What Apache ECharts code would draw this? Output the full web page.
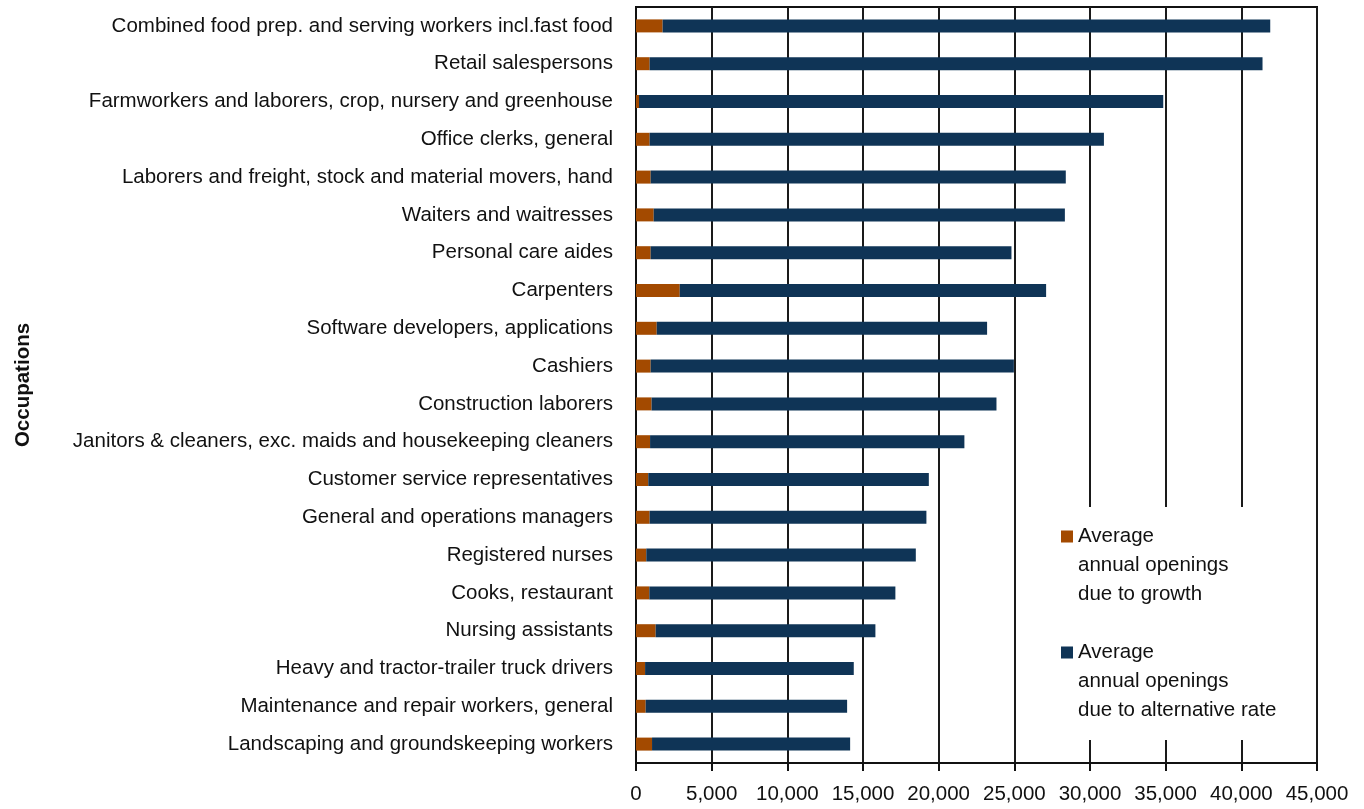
<!DOCTYPE html>
<html>
<head>
<meta charset="utf-8">
<script src="https://cdn.jsdelivr.net/npm/echarts@6/dist/echarts.min.js"></script>
<style>
html,body{margin:0;padding:0;background:#fff;}
#chart{width:1364px;height:809px;}
</style>
</head>
<body>
<div id="chart"></div>
<script>
const categories = [
  "Combined food prep. and serving workers incl.fast food",
  "Retail salespersons",
  "Farmworkers and laborers, crop, nursery and greenhouse",
  "Office clerks, general",
  "Laborers and freight, stock and material movers, hand",
  "Waiters and waitresses",
  "Personal care aides",
  "Carpenters",
  "Software developers, applications",
  "Cashiers",
  "Construction laborers",
  "Janitors & cleaners, exc. maids and housekeeping cleaners",
  "Customer service representatives",
  "General and operations managers",
  "Registered nurses",
  "Cooks, restaurant",
  "Nursing assistants",
  "Heavy and tractor-trailer truck drivers",
  "Maintenance and repair workers, general",
  "Landscaping and groundskeeping workers"
];
const growthOpenings = [1760, 900, 200, 900, 970, 1170, 970, 2890, 1370, 970, 1030, 930, 810, 900, 680, 880, 1300, 600, 640, 1060];
const alternativeOpenings = [40150, 40500, 34640, 30020, 27430, 27170, 23840, 24210, 21830, 24000, 22790, 20770, 18540, 18290, 17810, 16260, 14520, 13790, 13310, 13090];
const seriesNames = [
  "Average\nannual openings\ndue to growth",
  "Average\nannual openings\ndue to alternative rate"
];
const axisMin = 0, axisMax = 45000, axisStep = 5000;
const yAxisTitle = "Occupations";

const FONT = "Liberation Sans, Arial, sans-serif";
const FS = 20.5;
const ICON = 'path://M0,0L12,0L12,12L0,12Z M0,69.99L0.01,69.99L0.01,70L0,70Z';

const chart = echarts.init(document.getElementById('chart'), null, {renderer: 'canvas'});
chart.setOption({
  animation: false,
  backgroundColor: '#ffffff',
  textStyle: {fontFamily: FONT},
  grid: {left: 636, right: 47, top: 7, bottom: 46, show: true, borderColor: '#111', borderWidth: 2, backgroundColor: 'transparent'},
  legend: {
    orient: 'vertical',
    left: 1040,
    top: 507,
    padding: [15, 34, 15, 21],
    backgroundColor: '#ffffff',
    itemWidth: 12,
    itemHeight: 70,
    itemGap: 29,
    icon: ICON,
    selectedMode: false,
    textStyle: {fontFamily: FONT, fontSize: FS, color: '#111', lineHeight: 29},
    data: seriesNames
  },
  xAxis: {
    type: 'value',
    min: axisMin, max: axisMax, interval: axisStep,
    axisLine: {show: true, lineStyle: {color: '#111', width: 2}},
    axisTick: {show: true, length: 8, lineStyle: {color: '#111', width: 2}},
    axisLabel: {fontFamily: FONT, fontSize: FS, color: '#111', margin: 21,
      formatter: v => v.toLocaleString('en-US')},
    splitLine: {show: true, lineStyle: {color: '#1a1a1a', width: 2}}
  },
  yAxis: {
    type: 'category',
    data: categories,
    inverse: true,
    name: yAxisTitle,
    nameLocation: 'middle',
    nameGap: 602,
    nameRotate: 90,
    nameTextStyle: {fontFamily: FONT, fontSize: FS, fontWeight: 'bold', color: '#111'},
    axisLine: {show: true, lineStyle: {color: '#111', width: 2}},
    axisTick: {show: false},
    axisLabel: {fontFamily: FONT, fontSize: FS, color: '#111', margin: 23},
    splitLine: {show: false}
  },
  series: [
    {name: seriesNames[0], type: 'bar', stack: 'total', data: growthOpenings, barWidth: 13,
      itemStyle: {color: '#a34a00'}},
    {name: seriesNames[1], type: 'bar', stack: 'total', data: alternativeOpenings, barWidth: 13,
      itemStyle: {color: '#0f3456'}}
  ]
});
</script>
</body>
</html>
